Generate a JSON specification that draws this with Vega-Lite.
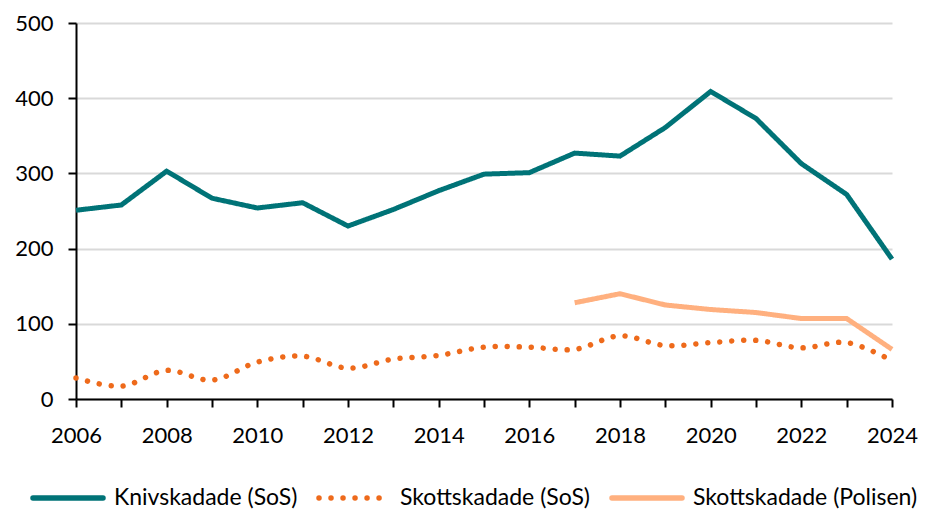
{
  "$schema": "https://vega.github.io/schema/vega-lite/v6.json",
  "width": 816,
  "height": 376,
  "autosize": "none",
  "padding": {"left": 76, "top": 23, "right": 33, "bottom": 110},
  "background": "white",
  "config": {
    "view": {"stroke": null},
    "font": "Lato",
    "axis": {"labelFont": "Lato", "labelFontSize": 22, "labelColor": "#000000", "domainColor": "#000000", "tickColor": "#000000", "domainWidth": 2, "tickWidth": 2, "tickSize": 8, "title": null},
    "legend": {"padding": 0, "labelLimit": 400}
  },
  "datasets": {
    "main": [
      {"year": 2006, "series": "Knivskadade (SoS)", "value": 251},
      {"year": 2007, "series": "Knivskadade (SoS)", "value": 258},
      {"year": 2008, "series": "Knivskadade (SoS)", "value": 303},
      {"year": 2009, "series": "Knivskadade (SoS)", "value": 267},
      {"year": 2010, "series": "Knivskadade (SoS)", "value": 254},
      {"year": 2011, "series": "Knivskadade (SoS)", "value": 261},
      {"year": 2012, "series": "Knivskadade (SoS)", "value": 230},
      {"year": 2013, "series": "Knivskadade (SoS)", "value": 252},
      {"year": 2014, "series": "Knivskadade (SoS)", "value": 277},
      {"year": 2015, "series": "Knivskadade (SoS)", "value": 299},
      {"year": 2016, "series": "Knivskadade (SoS)", "value": 301},
      {"year": 2017, "series": "Knivskadade (SoS)", "value": 327},
      {"year": 2018, "series": "Knivskadade (SoS)", "value": 323},
      {"year": 2019, "series": "Knivskadade (SoS)", "value": 361},
      {"year": 2020, "series": "Knivskadade (SoS)", "value": 409},
      {"year": 2021, "series": "Knivskadade (SoS)", "value": 373},
      {"year": 2022, "series": "Knivskadade (SoS)", "value": 313},
      {"year": 2023, "series": "Knivskadade (SoS)", "value": 272},
      {"year": 2024, "series": "Knivskadade (SoS)", "value": 186},
      {"year": 2017, "series": "Skottskadade (Polisen)", "value": 128},
      {"year": 2018, "series": "Skottskadade (Polisen)", "value": 140},
      {"year": 2019, "series": "Skottskadade (Polisen)", "value": 125},
      {"year": 2020, "series": "Skottskadade (Polisen)", "value": 119},
      {"year": 2021, "series": "Skottskadade (Polisen)", "value": 115},
      {"year": 2022, "series": "Skottskadade (Polisen)", "value": 107},
      {"year": 2023, "series": "Skottskadade (Polisen)", "value": 107},
      {"year": 2024, "series": "Skottskadade (Polisen)", "value": 66}
    ],
    "skott": [
      {"year": 2006, "series": "Skottskadade (SoS)", "value": 28},
      {"year": 2007, "series": "Skottskadade (SoS)", "value": 17},
      {"year": 2008, "series": "Skottskadade (SoS)", "value": 38},
      {"year": 2009, "series": "Skottskadade (SoS)", "value": 25},
      {"year": 2010, "series": "Skottskadade (SoS)", "value": 49},
      {"year": 2011, "series": "Skottskadade (SoS)", "value": 57},
      {"year": 2012, "series": "Skottskadade (SoS)", "value": 41},
      {"year": 2013, "series": "Skottskadade (SoS)", "value": 53},
      {"year": 2014, "series": "Skottskadade (SoS)", "value": 58},
      {"year": 2015, "series": "Skottskadade (SoS)", "value": 69},
      {"year": 2016, "series": "Skottskadade (SoS)", "value": 69},
      {"year": 2017, "series": "Skottskadade (SoS)", "value": 66},
      {"year": 2018, "series": "Skottskadade (SoS)", "value": 84},
      {"year": 2019, "series": "Skottskadade (SoS)", "value": 71},
      {"year": 2020, "series": "Skottskadade (SoS)", "value": 75},
      {"year": 2021, "series": "Skottskadade (SoS)", "value": 78},
      {"year": 2022, "series": "Skottskadade (SoS)", "value": 68},
      {"year": 2023, "series": "Skottskadade (SoS)", "value": 75},
      {"year": 2024, "series": "Skottskadade (SoS)", "value": 51}
    ]
  },
  "encoding": {
    "x": {
      "field": "year", "type": "quantitative",
      "scale": {"domain": [2006, 2024], "nice": false, "zero": false},
      "axis": {"values": [2006,2007,2008,2009,2010,2011,2012,2013,2014,2015,2016,2017,2018,2019,2020,2021,2022,2023,2024], "labelExpr": "datum.value % 2 == 0 ? datum.value : ''", "grid": false, "labelPadding": 18, "labelFlush": false, "labelOverlap": false}
    },
    "y": {
      "field": "value", "type": "quantitative",
      "scale": {"domain": [0, 500], "nice": false},
      "axis": {"values": [0,100,200,300,400,500], "grid": true, "gridColor": "#d9d9d9", "gridWidth": 2, "labelPadding": 15}
    },
    "color": {
      "field": "series", "type": "nominal",
      "scale": {"domain": ["Knivskadade (SoS)", "Skottskadade (SoS)", "Skottskadade (Polisen)"], "range": ["#007377", "#EE6A1B", "#FFB07F"]},
      "legend": {"orient": "none", "legendX": -46, "legendY": 437, "direction": "horizontal", "title": null, "labelFont": "Lato", "labelFontSize": 23, "labelColor": "#000000", "symbolType": "stroke", "symbolSize": 4900, "symbolStrokeWidth": 5.5, "columnPadding": 10, "labelOffset": 8, "labelLimit": 400,
        "encode": {"symbols": {"update": {"strokeCap": {"value": "round"}}}}}
    },
    "strokeDash": {
      "field": "series", "type": "nominal",
      "scale": {"domain": ["Knivskadade (SoS)", "Skottskadade (SoS)", "Skottskadade (Polisen)"], "range": [[1, 0], [0.01, 12], [1, 0]]},
      "legend": {"orient": "none", "legendX": -46, "legendY": 437, "direction": "horizontal", "title": null, "labelFont": "Lato", "labelFontSize": 23, "labelColor": "#000000", "symbolType": "stroke", "symbolSize": 4900, "symbolStrokeWidth": 5.5, "columnPadding": 10, "labelOffset": 8, "labelLimit": 400,
        "encode": {"symbols": {"update": {"strokeCap": {"value": "round"}}}}}
    }
  },
  "layer": [
    {
      "data": {"name": "main"},
      "mark": {"type": "line", "strokeWidth": 5, "strokeCap": "butt", "strokeJoin": "miter", "clip": false}
    },
    {
      "data": {"name": "skott"},
      "mark": {"type": "line", "strokeWidth": 5.5, "strokeCap": "round", "interpolate": "catmull-rom"}
    }
  ]
}
